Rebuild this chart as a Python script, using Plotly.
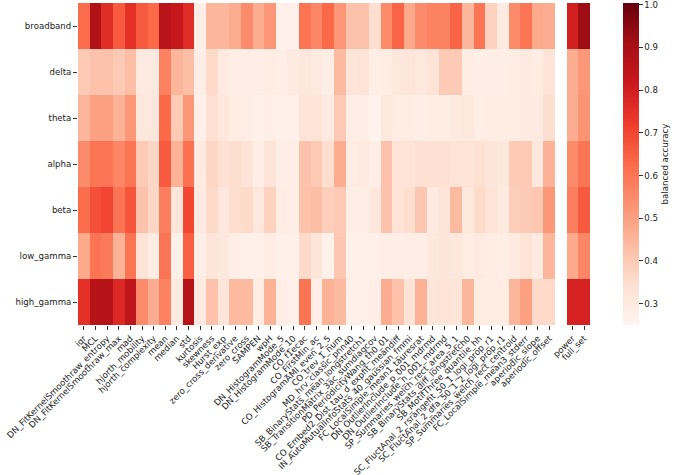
import plotly.graph_objects as go
import plotly.colors as pc

# rows of the heatmap (frequency bands)
bands = ['broadband', 'delta', 'theta', 'alpha', 'beta', 'low_gamma', 'high_gamma']

# single-feature columns
features = [
    'iqr', 'MCL', 'DN_FitKernelSmoothraw_entropy', 'DN_FitKernelSmoothraw_max', 'mad',
    'hjorth_mobility', 'hjorth_complexity', 'mean', 'median', 'std', 'kurtosis',
    'skewness', 'Hurst_exp', 'zero_cross_derivative', 'zero_cross', 'SAMPEN', 'wpH',
    'DN_HistogramMode_5', 'DN_HistogramMode_10', 'CO_f1ecac', 'CO_FirstMin_ac',
    'CO_HistogramAMI_even_2_5', 'CO_trev_1_num', 'MD_hrv_classic_pnn40',
    'SB_BinaryStats_mean_longstretch1', 'SB_TransitionMatrix_3ac_sumdiagcov',
    'PD_PeriodicityWang_th0_01', 'CO_Embed2_Dist_tau_d_expfit_meandiff',
    'IN_AutoMutualInfoStats_40_gaussian_fmmi', 'FC_LocalSimple_mean1_tauresrat',
    'DN_OutlierInclude_p_001_mdrmd', 'DN_OutlierInclude_n_001_mdrmd',
    'SP_Summaries_welch_rect_area_5_1', 'SB_BinaryStats_diff_longstretch0',
    'SB_MotifThree_quantile_hh', 'SC_FluctAnal_2_rsrangefit_50_1_logi_prop_r1',
    'SC_FluctAnal_2_dfa_50_1_2_logi_prop_r1', 'SP_Summaries_welch_rect_centroid',
    'FC_LocalSimple_mean3_stderr', 'aperiodic_slope', 'aperiodic_offset',
]

# combined feature sets, shown apart on the right
combined = ['power', 'full_set']

# balanced accuracy per band
broadband = [0.62, 0.88, 0.76, 0.66, 0.75, 0.66, 0.63, 0.86, 0.83, 0.76, 0.28,
             0.45, 0.45, 0.47, 0.55, 0.47, 0.52, 0.27, 0.27, 0.60, 0.56, 0.63,
             0.52, 0.42, 0.42, 0.35, 0.55, 0.64, 0.48, 0.55, 0.57, 0.57, 0.64,
             0.45, 0.60, 0.38, 0.30, 0.55, 0.60, 0.48, 0.47]
delta = [0.40, 0.42, 0.42, 0.40, 0.43, 0.30, 0.30, 0.57, 0.45, 0.43, 0.28,
         0.36, 0.30, 0.28, 0.28, 0.28, 0.29, 0.28, 0.30, 0.31, 0.30, 0.28,
         0.44, 0.32, 0.33, 0.28, 0.29, 0.31, 0.32, 0.31, 0.33, 0.40, 0.40,
         0.29, 0.28, 0.28, 0.28, 0.29, 0.30, 0.29, 0.33]
theta = [0.45, 0.50, 0.50, 0.46, 0.52, 0.31, 0.31, 0.63, 0.40, 0.52, 0.27,
         0.34, 0.31, 0.29, 0.28, 0.27, 0.28, 0.27, 0.27, 0.33, 0.33, 0.30,
         0.40, 0.28, 0.28, 0.26, 0.31, 0.29, 0.29, 0.28, 0.29, 0.29, 0.30,
         0.31, 0.28, 0.29, 0.29, 0.29, 0.30, 0.30, 0.35]
alpha = [0.55, 0.60, 0.60, 0.56, 0.60, 0.40, 0.37, 0.66, 0.46, 0.61, 0.30,
         0.37, 0.34, 0.35, 0.33, 0.28, 0.33, 0.28, 0.28, 0.42, 0.40, 0.35,
         0.47, 0.29, 0.30, 0.28, 0.42, 0.33, 0.33, 0.34, 0.34, 0.34, 0.33,
         0.33, 0.34, 0.32, 0.31, 0.40, 0.40, 0.31, 0.46]
beta = [0.62, 0.68, 0.70, 0.60, 0.67, 0.42, 0.37, 0.58, 0.32, 0.70, 0.30,
        0.36, 0.31, 0.35, 0.36, 0.31, 0.38, 0.29, 0.28, 0.42, 0.43, 0.39,
        0.40, 0.28, 0.28, 0.31, 0.42, 0.33, 0.35, 0.41, 0.30, 0.32, 0.44,
        0.31, 0.36, 0.33, 0.30, 0.39, 0.40, 0.41, 0.52]
low_gamma = [0.48, 0.60, 0.59, 0.46, 0.60, 0.33, 0.29, 0.60, 0.27, 0.65, 0.28,
             0.32, 0.31, 0.28, 0.27, 0.27, 0.29, 0.27, 0.27, 0.36, 0.32, 0.27,
             0.41, 0.27, 0.27, 0.27, 0.28, 0.28, 0.28, 0.28, 0.31, 0.32, 0.31,
             0.29, 0.30, 0.29, 0.28, 0.30, 0.33, 0.30, 0.45]
high_gamma = [0.75, 0.87, 0.87, 0.77, 0.85, 0.55, 0.47, 0.57, 0.30, 0.87, 0.30,
              0.42, 0.32, 0.44, 0.44, 0.29, 0.46, 0.28, 0.27, 0.60, 0.28, 0.46,
              0.44, 0.27, 0.27, 0.28, 0.47, 0.42, 0.33, 0.46, 0.32, 0.33, 0.32,
              0.45, 0.29, 0.29, 0.29, 0.45, 0.50, 0.36, 0.36]

# one value per band for the combined sets
power = [0.80, 0.47, 0.47, 0.55, 0.58, 0.48, 0.79]
full_set = [0.92, 0.52, 0.53, 0.60, 0.66, 0.56, 0.79]

rows = [broadband, delta, theta, alpha, beta, low_gamma, high_gamma]

# empty column between the single features and the combined sets
z = []
for i, r in enumerate(rows):
    z.append(list(r) + [None, power[i], full_set[i]])

n = len(features)
x = list(range(n + 1 + len(combined)))
tickvals = list(range(n)) + [n + 1 + k for k in range(len(combined))]
ticktext = features + combined

W, H = 680, 475
left, right, top, bottom = 77.5, 590, 3.3, 325.3
fsize = 8.6

fig = go.Figure(go.Heatmap(
    z=z, x=x, y=bands,
    colorscale=pc.sequential.Reds,
    zmin=0.25, zmax=1.004,
    hoverongaps=False,
    colorbar=dict(
        thickness=16, len=1.0, lenmode='fraction',
        x=(622.7 - left) / (right - left), xanchor='left', xpad=0,
        y=0.5, yanchor='middle', ypad=0,
        outlinewidth=0,
        ticks='outside', ticklen=4, tickcolor='#333',
        tickmode='array',
        tickvals=[0.3, 0.4, 0.5, 0.6, 0.7, 0.8, 0.9, 1.0],
        ticktext=['0.3', '0.4', '0.5', '0.6', '0.7', '0.8', '0.9', '1.0'],
        ticklabeloverflow='allow',
        tickfont=dict(size=fsize, color='#222'),
        title=dict(text='balanced accuracy', side='right',
                   font=dict(size=fsize, color='#222')),
    ),
))

fig.update_xaxes(
    tickmode='array', tickvals=tickvals, ticktext=ticktext,
    tickangle=-45, ticks='outside', ticklen=4, tickcolor='#333',
    tickfont=dict(size=fsize, color='#222'),
    showgrid=False, zeroline=False, showline=False,
    range=[-0.5, len(x) - 0.5],
)
fig.update_yaxes(
    autorange='reversed', ticks='outside', ticklen=4, tickcolor='#333',
    tickfont=dict(size=fsize, color='#222'),
    showgrid=False, zeroline=False, showline=False,
)

fig.update_layout(
    width=W, height=H,
    margin=dict(l=left, r=W - right, t=top, b=H - bottom, autoexpand=False),
    paper_bgcolor='white', plot_bgcolor='white',
    font=dict(family='DejaVu Sans', size=fsize, color='#222'),
)

# drop the browser's default body margin so the figure sits at the page corner
fig.write_html("out.html", config={'displayModeBar': False},
               post_script="document.body.style.margin='0';")
